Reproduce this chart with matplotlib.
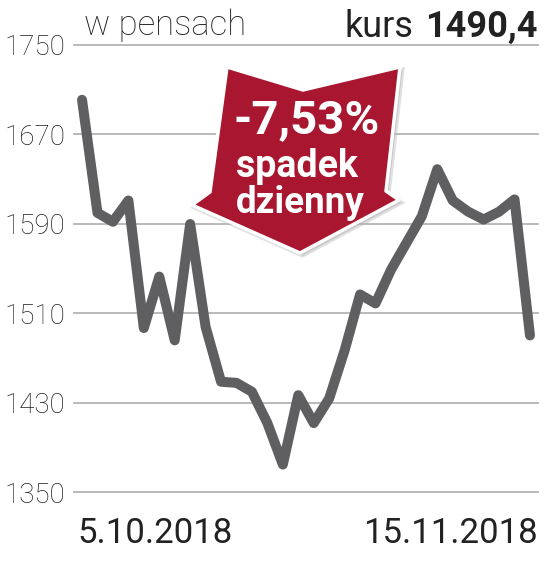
import numpy as np
import matplotlib
matplotlib.use('Agg')
import matplotlib.pyplot as plt
from matplotlib.patches import Polygon

# daily close in pence, 5.10.2018 - 15.11.2018
prices = [1701, 1600, 1592, 1611, 1497, 1543, 1486, 1590, 1498, 1449,
          1448, 1440, 1412, 1375, 1437, 1412, 1434, 1477, 1527, 1519,
          1549, 1573, 1597, 1639, 1611, 1601, 1594, 1601, 1612, 1490.4]
y_ticks = [1350, 1430, 1510, 1590, 1670, 1750]
date_labels = ['5.10.2018', '15.11.2018']
unit_label = 'w pensach'
last_label = ('kurs', '1490,4')
badge_lines = ['-7,53%', 'spadek', 'dzienny']

W, H = 543, 568
LINE = '#5f5f62'
GRID = '#b4b4b4'
RED = '#a8172f'
TXT = '#222222'

plt.rcParams['font.family'] = ['Roboto', 'DejaVu Sans']

fig = plt.figure(figsize=(W / 100, H / 100), dpi=100)


def px(x, y):
    return x / W, 1 - y / H


ax = fig.add_axes([74 / W, (H - 492.5) / H, 464 / W, 447.5 / H])
x = np.arange(len(prices))
ax.plot(x, prices, color=LINE, lw=7.2, solid_capstyle='round',
        solid_joinstyle='round', zorder=3, clip_on=False)
ax.set_xlim(-0.52, len(prices) - 1 + 0.52)
ax.set_ylim(y_ticks[0], y_ticks[-1])
ax.set_yticks(y_ticks)
ax.set_yticklabels([str(t) for t in y_ticks], fontsize=20, color='#1e1e1e',
                   fontweight='light')
ax.set_xticks([])
ax.tick_params(axis='y', length=0, pad=6.5)
ax.grid(axis='y', color=GRID, lw=1.3)
for gl in ax.get_ygridlines():
    gl.set_clip_on(False)
for s in ax.spines.values():
    s.set_visible(False)
ax.set_facecolor('none')

# header texts
fig.text(*px(84, 35), unit_label, fontsize=25, color='#222222',
         fontweight='light', ha='left', va='baseline')
fig.text(*px(538, 37), last_label[1], fontsize=26, color=TXT,
         fontweight='bold', ha='right', va='baseline')
fig.text(*px(413, 37), last_label[0], fontsize=26, color=TXT,
         ha='right', va='baseline')

# date labels
fig.text(*px(77, 543), date_labels[0], fontsize=25, color=TXT,
         ha='left', va='baseline')
fig.text(*px(538, 543), date_labels[1], fontsize=25, color=TXT,
         ha='right', va='baseline')

# red arrow badge
shape = [(227, 67), (303, 90), (400, 67), (386, 191), (399, 200),
         (300, 253), (192, 205), (210, 192)]
shadow = Polygon([px(a + 2.5, b + 2.5) for a, b in shape], closed=True,
                 transform=fig.transFigure, facecolor='#9a9a9a', alpha=0.45,
                 edgecolor='#bbbbbb', lw=3, zorder=5)
badge = Polygon([px(a, b) for a, b in shape], closed=True,
                transform=fig.transFigure, facecolor=RED,
                edgecolor='white', lw=2.5, joinstyle='round', zorder=6)
fig.add_artist(shadow)
fig.add_artist(badge)
fig.text(*px(307, 133), badge_lines[0], fontsize=34, color='white',
         fontweight='bold', ha='center', va='baseline', zorder=7)
fig.text(*px(297, 177), badge_lines[1], fontsize=27, color='white',
         fontweight='bold', ha='center', va='baseline', zorder=7)
fig.text(*px(300, 213), badge_lines[2], fontsize=26.5, color='white',
         fontweight='bold', ha='center', va='baseline', zorder=7)

fig.savefig('out.png', dpi=100, facecolor='white')
